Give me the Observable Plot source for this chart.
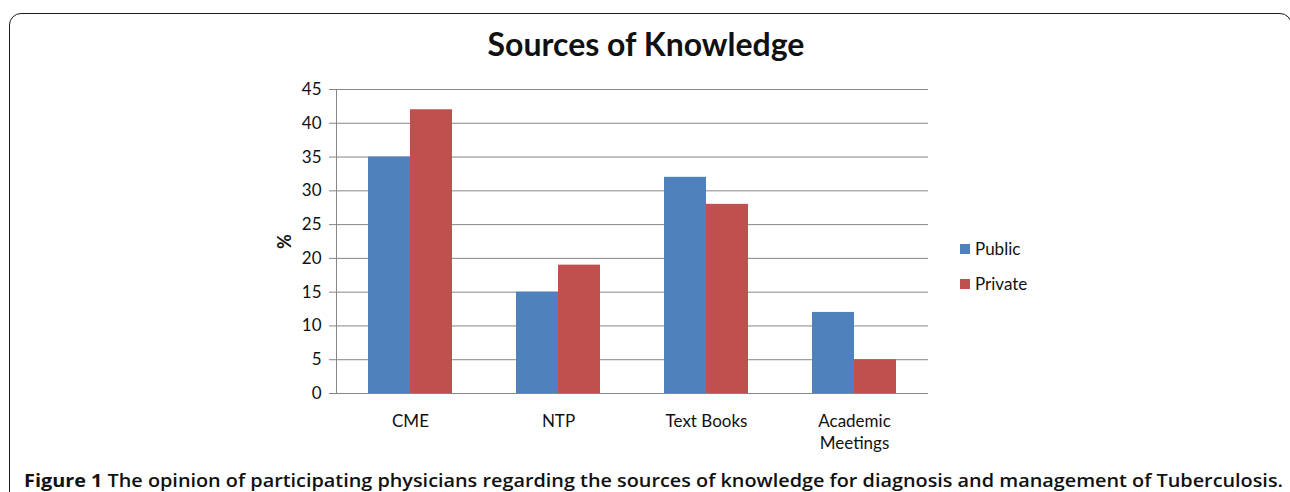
<!DOCTYPE html>
<html><head><meta charset="utf-8">
<script src="https://cdn.jsdelivr.net/npm/d3@7"></script>
<script src="https://cdn.jsdelivr.net/npm/@observablehq/plot@0.6"></script>
<style>
body{margin:0;background:#fff;}
#wrap{position:relative;width:1290px;height:492px;overflow:hidden;background:#fff;font-family:Lato,"Open Sans",sans-serif;color:#111;}
#border{position:absolute;left:9px;top:13px;width:1283px;height:520px;border:1.6px solid #1a1a1a;border-radius:12px;box-sizing:border-box;}
#title{position:absolute;left:0;width:1292px;top:24px;text-align:center;font-weight:700;font-size:32px;color:#111;}
#chart{position:absolute;left:0;top:70px;}
#legend{position:absolute;left:960px;top:231px;font-size:17px;}
.item{display:flex;align-items:center;height:35px;}
.sw{width:10px;height:10px;margin-right:5px;}
#caption{position:absolute;left:24px;top:467px;font-family:"Open Sans",sans-serif;font-weight:600;font-size:18.5px;white-space:nowrap;transform-origin:0 0;color:#111;}
#caption b{font-weight:700;}
</style></head>
<body>
<div id="wrap">
  <div id="border"></div>
  <div id="title">Sources of Knowledge</div>
  <div id="chart"></div>
  <div id="legend"></div>
  <div id="caption"><b>Figure 1</b> The opinion of participating physicians regarding the sources of knowledge for diagnosis and management of Tuberculosis.</div>
</div>
<script>
const categories = ["CME", "NTP", "Text Books", "Academic\nMeetings"];
const series = ["Public", "Private"];
const publicValues = [35, 15, 32, 12];
const privateValues = [42, 19, 28, 5];
const yTicks = [0, 5, 10, 15, 20, 25, 30, 35, 40, 45];
const colors = ["#4F81BD", "#C0504D"];

const data = categories.flatMap((c, i) => [
  {category: c, series: "Public", value: publicValues[i]},
  {category: c, series: "Private", value: privateValues[i]}
]);

const chart = Plot.plot({
  width: 1290, height: 392,
  marginLeft: 336, marginRight: 362, marginTop: 19, marginBottom: 69,
  style: {fontFamily: "Lato, 'Open Sans', sans-serif", fontSize: "17px", color: "#111", background: "transparent"},
  fx: {domain: categories, padding: 0, label: null},
  x: {domain: series, paddingInner: 0, paddingOuter: 0.74, axis: null},
  y: {domain: [0, 45], label: "%"},
  color: {domain: series, range: colors},
  marks: [
    Plot.gridY(yTicks, {stroke: "#868686", strokeOpacity: 1}),
    Plot.barY(data, {fx: "category", x: "series", y: "value", fill: "series"}),
    Plot.ruleY([0], {stroke: "#868686"}),
    Plot.frame({anchor: "left", facetAnchor: "left", stroke: "#868686"}),
    Plot.axisY(yTicks, {tickSize: 7, tickPadding: 8, stroke: "#868686", fontSize: 17, label: "%", labelAnchor: "center", labelArrow: "none", labelOffset: 58}),
    Plot.axisFx({anchor: "bottom", tickSize: 0, tickPadding: 18, fontSize: 17, lineHeight: 1.3, label: null})
  ]
});
document.getElementById("chart").appendChild(chart);
d3.select(chart).selectAll("text").filter(function(){ return this.textContent === "%"; })
  .attr("font-weight", "bold").attr("font-size", 18);

const legend = d3.select("#legend");
series.forEach((s, i) => {
  const it = legend.append("div").attr("class", "item");
  it.append("div").attr("class", "sw").style("background", colors[i]);
  it.append("span").text(s);
});

const cap = document.getElementById("caption");
const w = cap.getBoundingClientRect().width;
cap.style.transform = `scaleX(${1259 / w})`;
</script>
</body></html>
